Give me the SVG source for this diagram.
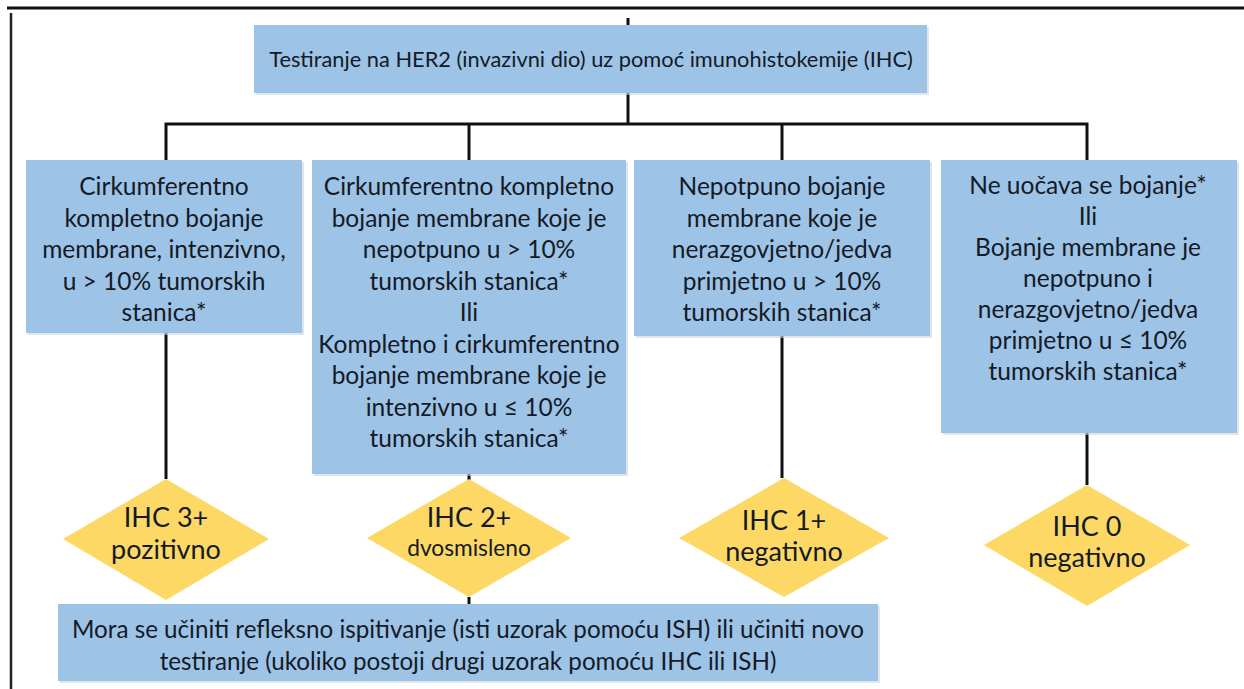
<svg xmlns="http://www.w3.org/2000/svg" width="1244" height="689" viewBox="0 0 1244 689">
<style>
.box{fill:#9dc3e6}
.sh{fill:#c9d3dd;opacity:0.6}
.dia{fill:#fdd865}
.ln{stroke:#111;stroke-width:3;fill:none}
.t{font-family:Lato,"Liberation Sans",sans-serif;fill:#141a26;text-anchor:middle}
.b{font-size:24.5px}
.d{font-size:27px}
.s{font-size:22.7px}
.m{font-size:21.8px}
.n{font-size:24.2px}
</style>
<rect width="1244" height="689" fill="#fff"/>
<g id="frame">
<line x1="7" y1="8" x2="1244" y2="8" stroke="#111" stroke-width="3"/>
<line x1="11" y1="13" x2="11" y2="689" stroke="#222" stroke-width="2.5"/>
</g>
<g id="connectors">
<line class="ln" x1="628" y1="18" x2="628" y2="25" stroke-width="2"/>
<line class="ln" x1="628" y1="93" x2="628" y2="124"/>
<polyline class="ln" points="166,160 166,124 1087,124 1087,160"/>
<line class="ln" x1="469" y1="124" x2="469" y2="160"/>
<line class="ln" x1="782" y1="124" x2="782" y2="160"/>
<line class="ln" x1="166" y1="333" x2="166" y2="479"/>
<line class="ln" x1="469" y1="474" x2="469" y2="480" stroke-width="2"/>
<line class="ln" x1="782" y1="336" x2="782" y2="478"/>
<line class="ln" x1="1087" y1="433" x2="1087" y2="485"/>
<line class="ln" x1="469" y1="597" x2="469" y2="604" stroke-width="2"/>
</g>
<g id="top">
<rect class="sh" x="256" y="27" width="673" height="68"/>
<rect class="box" x="254" y="25" width="673" height="68"/>
<text class="t m" x="591" y="67">Testiranje na HER2 (invazivni dio) uz pomoć imunohistokemije (IHC)</text>
</g>
<g id="box1">
<rect class="sh" x="28" y="162" width="276" height="173"/>
<rect class="box" x="26" y="160" width="276" height="173"/>
<text class="t b" x="164" y="195">Cirkumferentno</text>
<text class="t b" x="164" y="226.5">kompletno bojanje</text>
<text class="t b" x="164" y="258">membrane, intenzivno,</text>
<text class="t b" x="164" y="289.5">u &gt; 10% tumorskih</text>
<text class="t b" x="164" y="321">stanica*</text>
</g>
<g id="box2">
<rect class="sh" x="314" y="162" width="314" height="314"/>
<rect class="box" x="312" y="160" width="314" height="314"/>
<text class="t b" x="469" y="195">Cirkumferentno kompletno</text>
<text class="t b" x="469" y="226.5">bojanje membrane koje je</text>
<text class="t b" x="469" y="258">nepotpuno u &gt; 10%</text>
<text class="t b" x="469" y="289.5">tumorskih stanica*</text>
<text class="t b" x="469" y="321">Ili</text>
<text class="t b" x="469" y="352.5">Kompletno i cirkumferentno</text>
<text class="t b" x="469" y="384">bojanje membrane koje je</text>
<text class="t b" x="469" y="415.5">intenzivno u ≤ 10%</text>
<text class="t b" x="469" y="447">tumorskih stanica*</text>
</g>
<g id="box3">
<rect class="sh" x="636" y="162" width="296" height="176"/>
<rect class="box" x="634" y="160" width="296" height="176"/>
<text class="t b" x="782" y="195">Nepotpuno bojanje</text>
<text class="t b" x="782" y="226.5">membrane koje je</text>
<text class="t b" x="782" y="258">nerazgovjetno/jedva</text>
<text class="t b" x="782" y="289.5">primjetno u &gt; 10%</text>
<text class="t b" x="782" y="321">tumorskih stanica*</text>
</g>
<g id="box4">
<rect class="sh" x="943" y="162" width="296" height="273"/>
<rect class="box" x="941" y="160" width="296" height="273"/>
<text class="t b" x="1088" y="194">Ne uočava se bojanje*</text>
<text class="t b" x="1088" y="225">Ili</text>
<text class="t b" x="1088" y="256">Bojanje membrane je</text>
<text class="t b" x="1088" y="287">nepotpuno i</text>
<text class="t b" x="1088" y="318">nerazgovjetno/jedva</text>
<text class="t b" x="1088" y="349">primjetno u ≤ 10%</text>
<text class="t b" x="1088" y="380">tumorskih stanica*</text>
</g>
<g id="ihc3">
<polygon class="dia" points="166,479 269,539 166,600 63,539"/>
<text class="t d" x="166" y="527">IHC 3+</text>
<text class="t d" x="166" y="559">pozitivno</text>
</g>
<g id="ihc2">
<polygon class="dia" points="469,479 571,538 469,597 367,538"/>
<text class="t d" x="469" y="527">IHC 2+</text>
<text class="t s" x="469" y="556">dvosmisleno</text>
</g>
<g id="ihc1">
<polygon class="dia" points="784,478 889,538 784,597 679,538"/>
<text class="t d" x="784" y="530">IHC 1+</text>
<text class="t d" x="784" y="561">negativno</text>
</g>
<g id="ihc0">
<polygon class="dia" points="1087,485 1190,545 1087,606 984,545"/>
<text class="t d" x="1087" y="536">IHC 0</text>
<text class="t d" x="1087" y="567">negativno</text>
</g>
<g id="bottom">
<rect class="sh" x="60" y="606" width="820" height="77"/>
<rect class="box" x="58" y="604" width="820" height="77"/>
<text class="t n" x="468" y="638">Mora se učiniti refleksno ispitivanje (isti uzorak pomoću ISH) ili učiniti novo</text>
<text class="t n" x="468" y="670">testiranje (ukoliko postoji drugi uzorak pomoću IHC ili ISH)</text>
</g>
</svg>
